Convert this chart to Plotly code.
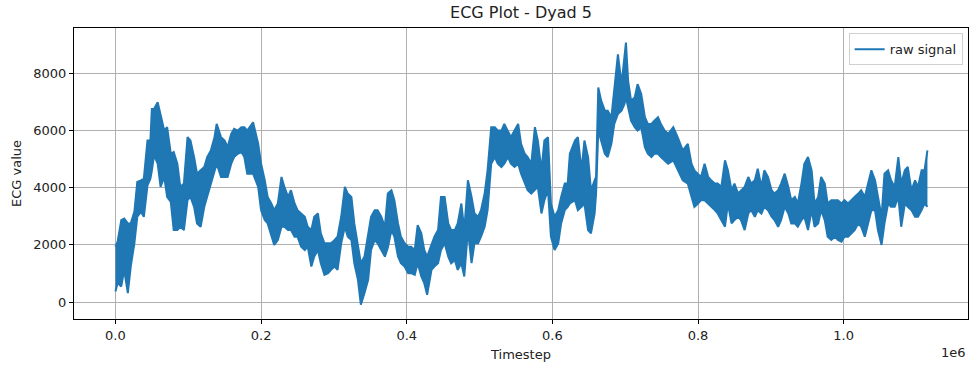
import plotly.graph_objects as go

# Timestep sample positions and the lower / upper envelope of the raw ECG signal
timestep = [0, 3000, 8000, 12000, 17000, 21000, 26000, 30000, 35000, 39000, 44000, 48000, 50000, 53000, 58000,
            62000, 67000, 71000, 76000, 80000, 85000, 89000, 94000, 99000, 103000, 108000, 112000, 117000, 122000,
            126000, 131000, 136000, 139000, 145000, 150000, 154000, 159000, 163000, 168000, 173000, 177000, 181000,
            189000, 196000, 200000, 205000, 209000, 214000, 218000, 223000, 228000, 232000, 237000, 241000, 246000,
            250000, 255000, 260000, 264000, 269000, 273000, 278000, 282000, 287000, 292000, 296000, 301000, 305000,
            310000, 315000, 319000, 324000, 328000, 333000, 337000, 342000, 347000, 351000, 356000, 360000, 365000,
            370000, 374000, 379000, 383000, 388000, 392000, 397000, 402000, 406000, 411000, 415000, 420000, 424000,
            428000, 434000, 438000, 443000, 447000, 452000, 457000, 461000, 466000, 470000, 475000, 479000, 484000,
            489000, 493000, 498000, 502000, 507000, 511000, 516000, 521000, 525000, 530000, 534000, 539000, 543000,
            548000, 553000, 557000, 562000, 566000, 571000, 576000, 580000, 585000, 589000, 594000, 598000, 603000,
            608000, 612000, 617000, 621000, 624000, 631000, 635000, 640000, 644000, 649000, 653000, 658000, 660000,
            663000, 667000, 672000, 676000, 681000, 685000, 690000, 695000, 699000, 701000, 704000, 708000, 713000,
            717000, 722000, 727000, 731000, 736000, 740000, 745000, 749000, 754000, 759000, 766000, 772000, 779000,
            786000, 791000, 795000, 800000, 804000, 809000, 814000, 818000, 823000, 827000, 832000, 837000, 841000,
            846000, 850000, 855000, 859000, 864000, 869000, 873000, 878000, 882000, 887000, 891000, 896000, 901000,
            905000, 910000, 914000, 919000, 924000, 928000, 933000, 937000, 942000, 946000, 951000, 956000, 960000,
            965000, 969000, 974000, 978000, 983000, 988000, 992000, 997000, 1001000, 1006000, 1010000, 1015000,
            1020000, 1024000, 1029000, 1033000, 1038000, 1043000, 1047000, 1052000, 1056000, 1061000, 1065000,
            1070000, 1075000, 1079000, 1084000, 1088000, 1093000, 1098000, 1102000, 1107000, 1111000, 1115000]

ecg_high = [1937, 2111, 2865, 2923, 2749, 2749, 3155, 4199, 4257, 4315, 5649, 5649, 6751, 6751, 6983,
            6577, 5997, 6113, 5185, 5243, 4837, 4025, 4141, 5765, 5649, 5069, 4489, 4605, 4721,
            5069, 5301, 5765, 6229, 5765, 5649, 5417, 5881, 6055, 5997, 6113, 6113, 5997,
            6287, 5533, 4837, 4257, 3677, 3445, 3213, 3445, 4373, 4025, 3677, 3909, 3445,
            3213, 3097, 2981, 2633, 2517, 2981, 3097, 2401, 2053, 2053, 2053, 2169, 2285,
            2981, 4025, 3793, 3677, 2749, 1937, 1357, 1589, 2285, 2981, 3213, 3213, 2981,
            2633, 3793, 3909, 3561, 2749, 2285, 2053, 1937, 1937, 1821, 2691, 2401, 1821,
            1589, 2053, 2285, 2517, 3677, 3677, 2749, 2517, 2517, 2749, 3445, 2517, 4257,
            3677, 3097, 2981, 3213, 3793, 4605, 6113, 6113, 5997, 5997, 6229, 5997, 5765,
            5997, 6229, 5533, 5185, 5069, 4837, 6113, 5649, 4605, 5649, 5765, 3445, 2981,
            3213, 3677, 4141, 4141, 5185, 5649, 5765, 4605, 5649, 5069, 3909, 4257, 4373,
            7505, 7041, 6693, 6693, 6461, 7389, 8665, 7621, 8781, 9071, 7737, 7041, 7157,
            7621, 7273, 6461, 6229, 6229, 6345, 6461, 6229, 5997, 5881, 6113, 5765, 5301,
            5533, 4837, 4605, 4489, 4373, 4837, 4373, 4257, 4141, 4141, 4025, 4953, 4605,
            3909, 4141, 3793, 3909, 4025, 4373, 4141, 4257, 4663, 4025, 4605, 4373, 3909,
            3793, 3909, 4141, 4489, 4025, 3561, 3677, 3445, 4141, 4837, 5069, 4605, 3445,
            3677, 4373, 4141, 3445, 3561, 3561, 3561, 3445, 3561, 3445, 3561, 3677,
            3793, 3909, 3677, 4141, 4605, 4257, 3677, 2981, 4489, 4605, 4257,
            4025, 5069, 4141, 4605, 4721, 3909, 4257, 4025, 4605, 4605, 5301]

ecg_low = [371, 661, 545, 1125, 313, 1241, 2053, 2981, 3155, 2981, 4083, 4315, 4600, 5127, 4837,
           4025, 4373, 3677, 3503, 2517, 2517, 2633, 2517, 3561, 3677, 3329, 2749, 2633, 3329,
           3677, 4141, 4605, 4837, 4373, 4373, 4373, 4837, 5069, 5185, 5243, 5069, 4489,
           4489, 4025, 3213, 2865, 2749, 2285, 1995, 2169, 2633, 2633, 2517, 2517, 2285,
           2285, 1937, 1821, 1937, 1241, 1589, 1821, 1357, 951, 1009, 1125, 1241, 1125,
           2053, 2633, 2285, 2169, 1357, 777, -93, 313, 777, 1821, 2169, 2053, 1821,
           1589, 1900, 2517, 2285, 1589, 1357, 1241, 1009, 1009, 951, 1357, 893, 661,
           255, 1125, 1241, 1357, 1821, 2053, 1589, 1357, 1473, 1125, 1357, 893, 2517,
           1357, 2053, 2053, 2285, 2633, 3213, 4837, 5069, 4837, 4721, 4837, 5069, 4837,
           4721, 4837, 4489, 4141, 3909, 3793, 3909, 4025, 3097, 3561, 3909, 2285, 1821,
           2053, 2749, 3213, 3329, 3445, 3561, 3213, 3329, 3445, 2517, 2401, 3097, 3793,
           5997, 5649, 5185, 5069, 5533, 6229, 6577, 6693, 6925, 7157, 6809, 6345, 6113,
           5997, 6113, 5417, 5185, 5069, 5185, 5185, 5069, 4953, 4837, 4953, 4605, 4257,
           4141, 3677, 3329, 3445, 3561, 3561, 3445, 3329, 3213, 3097, 2865, 2633, 3445,
           2749, 2865, 2981, 2865, 2517, 3097, 3213, 2981, 3213, 3097, 3329, 3213, 2981,
           2865, 2633, 2865, 3329, 3097, 2749, 2749, 2633, 2865, 2981, 2517, 3213, 2633,
           2749, 3213, 2865, 2285, 2169, 2285, 2169, 2111, 2285, 2285, 2401, 2517,
           2749, 2633, 2285, 2749, 3213, 3213, 2517, 1995, 2749, 3445, 3329,
           3329, 3677, 2633, 3445, 3329, 3213, 2981, 2981, 3213, 3445, 3329]

x_tick_vals = [0, 200000, 400000, 600000, 800000, 1000000]
x_tick_text = ["0.0", "0.2", "0.4", "0.6", "0.8", "1.0"]
y_tick_vals = [0, 2000, 4000, 6000, 8000]
y_tick_text = ["0", "2000", "4000", "6000", "8000"]

COLOR = "#1f77b4"
FONT = "DejaVu Sans, sans-serif"

fig = go.Figure()
fig.add_trace(go.Scatter(x=timestep, y=ecg_low, mode="lines", name="raw signal",
                         line=dict(color=COLOR, width=2), showlegend=True, hoverinfo="skip"))
fig.add_trace(go.Scatter(x=timestep, y=ecg_high, mode="lines", name="raw signal",
                         line=dict(color=COLOR, width=2), fill="tonexty", fillcolor=COLOR,
                         showlegend=False, hoverinfo="skip"))

axis_common = dict(showline=True, mirror=True, linecolor="black", linewidth=1,
                   ticks="outside", ticklen=4, tickcolor="black", tickwidth=1,
                   showgrid=True, gridcolor="#b0b0b0", gridwidth=1, zeroline=False,
                   tickfont=dict(family=FONT, size=13, color="#222222"))

fig.update_xaxes(range=[-56900, 1170700], tickvals=x_tick_vals, ticktext=x_tick_text,
                 title=dict(text="Timestep", font=dict(family=FONT, size=13, color="#222222"), standoff=8),
                 **axis_common)
fig.update_yaxes(range=[-594, 9583], tickvals=y_tick_vals, ticktext=y_tick_text,
                 title=dict(text="ECG value", font=dict(family=FONT, size=13, color="#222222"), standoff=8),
                 **axis_common)

fig.update_layout(
    width=972, height=366,
    margin=dict(l=74, r=4, t=28, b=47),
    paper_bgcolor="white", plot_bgcolor="white",
    title=dict(text="ECG Plot - Dyad 5", x=0.536, xanchor="center", y=0.965, yanchor="middle",
               font=dict(family=FONT, size=16, color="#222222")),
    legend=dict(x=0.994, y=0.982, xanchor="right", yanchor="top",
                bgcolor="rgba(255,255,255,0.8)", bordercolor="#d0d0d0", borderwidth=1,
                font=dict(family=FONT, size=13, color="#222222")),
    annotations=[dict(text="1e6", xref="paper", yref="paper", x=1.0, y=-0.116,
                      xanchor="right", yanchor="middle", showarrow=False,
                      font=dict(family=FONT, size=13, color="#222222"))],
)

fig.write_html("out.html")
